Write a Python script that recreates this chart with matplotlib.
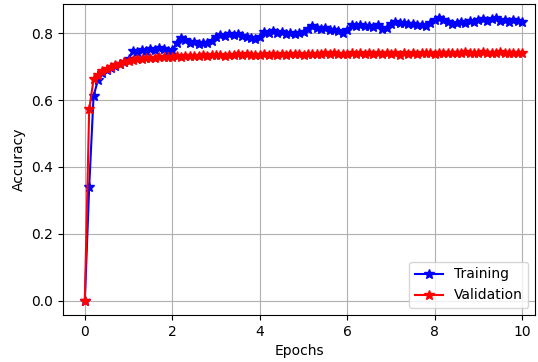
import numpy as np
import matplotlib
matplotlib.use("Agg")
import matplotlib.pyplot as plt

# epochs sampled every 0.1
epochs = np.linspace(0, 10, 101)

train_acc = [
    0.000, 0.340, 0.612, 0.660, 0.680, 0.689, 0.696, 0.702, 0.707, 0.713,
    0.722, 0.748, 0.744, 0.751, 0.747, 0.753, 0.749, 0.755, 0.752, 0.746,
    0.749, 0.772, 0.787, 0.779, 0.770, 0.773, 0.768, 0.772, 0.770, 0.776,
    0.790, 0.796, 0.793, 0.798, 0.794, 0.797, 0.791, 0.789, 0.786, 0.784,
    0.788, 0.804, 0.801, 0.806, 0.800, 0.803, 0.798, 0.802, 0.797, 0.800,
    0.803, 0.813, 0.820, 0.816, 0.812, 0.814, 0.810, 0.809, 0.806, 0.801,
    0.808, 0.824, 0.821, 0.825, 0.820, 0.822, 0.819, 0.823, 0.812, 0.816,
    0.827, 0.833, 0.829, 0.831, 0.826, 0.828, 0.824, 0.825, 0.822, 0.830,
    0.838, 0.845, 0.840, 0.832, 0.828, 0.830, 0.833, 0.829, 0.835, 0.832,
    0.838, 0.843, 0.836, 0.841, 0.845, 0.837, 0.840, 0.834, 0.838, 0.836,
    0.833,
]

val_acc = [
    0.000, 0.572, 0.662, 0.676, 0.688, 0.693, 0.700, 0.705, 0.709, 0.713,
    0.716, 0.719, 0.722, 0.724, 0.725, 0.727, 0.726, 0.729, 0.728, 0.730,
    0.729, 0.731, 0.730, 0.732, 0.731, 0.733, 0.732, 0.734, 0.733, 0.735,
    0.734, 0.736, 0.733, 0.736, 0.734, 0.737, 0.735, 0.737, 0.734, 0.736,
    0.735, 0.737, 0.735, 0.738, 0.736, 0.738, 0.736, 0.739, 0.737, 0.738,
    0.736, 0.739, 0.737, 0.739, 0.737, 0.740, 0.738, 0.740, 0.738, 0.739,
    0.738, 0.740, 0.738, 0.741, 0.739, 0.740, 0.738, 0.741, 0.739, 0.741,
    0.739, 0.741, 0.736, 0.740, 0.739, 0.741, 0.739, 0.742, 0.740, 0.741,
    0.739, 0.742, 0.740, 0.742, 0.740, 0.741, 0.740, 0.743, 0.740, 0.742,
    0.741, 0.744, 0.741, 0.742, 0.740, 0.743, 0.741, 0.742, 0.740, 0.742,
    0.741,
]

fig = plt.figure(figsize=(5.38, 3.62), dpi=100)
ax = fig.add_axes([0.117, 0.130, 0.878, 0.859])

ax.plot(epochs, train_acc, color="blue", marker="*", markersize=7, label="Training")
ax.plot(epochs, val_acc, color="red", marker="*", markersize=7, label="Validation")

ax.set_xlim(-0.5, 10.3)
ax.set_xlabel("Epochs")
ax.set_ylabel("Accuracy")
ax.grid(True)
ax.legend(loc="lower right")

plt.savefig("out.png", dpi=100)
